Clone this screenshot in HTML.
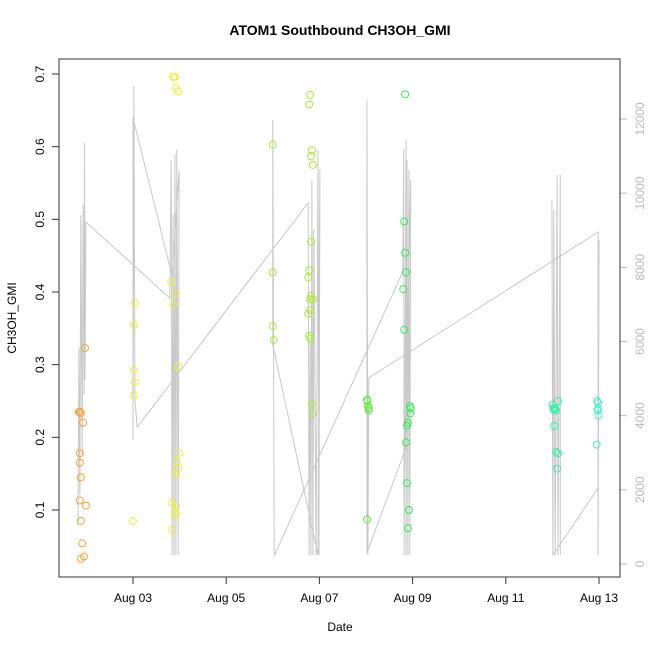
<!DOCTYPE html>
<html><head><meta charset="utf-8"><style>
html,body{margin:0;padding:0;background:#fff;}
svg text{font-family:"Liberation Sans",sans-serif;}
</style></head><body>
<svg id="chart" width="650" height="650" viewBox="0 0 650 650" xmlns="http://www.w3.org/2000/svg">
<rect width="650" height="650" fill="#fff"/>
<text x="340" y="35" text-anchor="middle" font-size="14" font-weight="bold">ATOM1 Southbound CH3OH_GMI</text>
<text x="340" y="631" text-anchor="middle" font-size="12">Date</text>
<text transform="translate(16,318) rotate(-90)" text-anchor="middle" font-size="12">CH3OH_GMI</text>
<g id="grayLine"></g>
<g id="points"></g>
<g id="axes"></g>
<rect x="59" y="59" width="561" height="518" fill="none" stroke="#333" stroke-width="1"/>
</svg>
<script>
// x: days since Aug 01 00:00
const xTickDays = [2,4,6,8,10,12];
const xTickLabels = ["Aug 03","Aug 05","Aug 07","Aug 09","Aug 11","Aug 13"];
const yTicks = [0.1,0.2,0.3,0.4,0.5,0.6,0.7];
const y2Ticks = [0,2000,4000,6000,8000,10000,12000];

const groupColors = ["#f9a234","#eef02c","#a8ec32","#5cf03c","#33ee55","#33f2a4","#3ff2c4"];
const ptDays = [
 [0.84,0.86,0.88,0.86,0.86,0.88,0.86,0.88,0.91,0.88,0.95,0.93,0.97,0.99],
 [2.0,2.04,2.02,2.02,2.04,2.02, 2.86,2.90,2.92,2.97, 2.82,2.86,2.90,2.97,2.99,2.94,2.97,2.92,2.84,2.92,2.90,2.92,2.84],
 [5.0,5.0,5.0,5.02, 5.80,5.78,5.84,5.82,5.86,5.82,5.78,5.76,5.80,5.86,5.82,5.80,5.76,5.78,5.80,5.84,5.86],
 [7.02,7.03,7.04,7.06,7.06,7.02],
 [7.84,7.82,7.84,7.86,7.80,7.82,7.94,7.96,7.95,7.90,7.88,7.86,7.88,7.92,7.90],
 [11.0,11.02,11.03,11.05,11.12,11.08,11.04,11.08,11.12,11.10],
 [11.96,11.98,11.97,11.98,11.99,11.95]
];
const ptValues = [
 [0.235,0.235,0.233,0.178,0.165,0.145,0.113,0.085,0.054,0.033,0.036,0.22,0.323,0.106],
 [0.085,0.385,0.355,0.292,0.276,0.258, 0.696,0.696,0.681,0.676, 0.414,0.383,0.397,0.297,0.178,0.166,0.157,0.149,0.110,0.105,0.094,0.094,0.073],
 [0.603,0.427,0.353,0.334, 0.671,0.658,0.595,0.587,0.575,0.469,0.430,0.420,0.390,0.390,0.395,0.375,0.370,0.340,0.336,0.246,0.233],
 [0.252,0.250,0.243,0.240,0.237,0.087],
 [0.672,0.497,0.454,0.427,0.404,0.348,0.243,0.240,0.233,0.220,0.216,0.193,0.137,0.100,0.075],
 [0.245,0.240,0.238,0.240,0.250,0.237,0.216,0.180,0.178,0.157],
 [0.250,0.247,0.237,0.240,0.230,0.190]
];

// gray line (right axis)
const lineDays = [0.82,0.84,0.86,0.88,0.91,0.93,0.95,0.96,0.97,0.99,
 2.79,2.82,2.84,2.86,2.88,2.90,2.92,2.94,2.97,2.99,2.84,
 2.0,2.0,2.02,2.04,2.09,
 5.76,5.78,5.80,5.82,5.84,5.86,5.88,5.93,5.97,5.99,6.01,5.97,
 5.0,5.0,5.03,
 7.79,7.81,7.82,7.86,7.86,7.88,7.90,7.92,7.94,7.96,7.84,
 7.02,7.02,7.04,7.06,
 11.98,11.98,12.0,11.98,
 11.01,10.99,11.01,11.03,11.06,11.10,11.12,11.17,11.17];
const lineValues = [1050,5830,1860,9410,2940,9680,4560,11350,4960,9220,
 7170,10900,240,9410,240,11030,240,11170,240,10600,7770,
 12030,3340,12900,4420,3690,
 9740,240,6040,240,10360,240,9010,240,11170,240,10630,240,
 5910,11980,220,
 7880,11170,240,11440,240,10900,240,10630,240,10360,3070,
 300,12510,240,5020,
 8950,240,8740,2050,
 240,9820,240,9550,240,10490,240,10490,240];

const L=59,R=620,T=59,B=577;
const X = d => 39.8 + 46.6*d;
const Y = v => 510 - (v-0.1)*726.7;
const Y2 = v => 564 - v*445/12000;
const NS="http://www.w3.org/2000/svg";
function mk(tag, attrs, parent){const e=document.createElementNS(NS,tag);for(const k in attrs)e.setAttribute(k,attrs[k]);parent.appendChild(e);return e;}

const gl=document.getElementById('grayLine');
let pts=lineDays.map((d,i)=>X(d).toFixed(1)+','+Y2(lineValues[i]).toFixed(1)).join(' ');
const pl=mk('polyline',{points:pts,fill:'none',stroke:'#c8c8c8','stroke-width':1},gl);



const pg=document.getElementById('points');
ptDays.forEach((arr,g)=>{arr.forEach((d,i)=>{
  const c=mk('circle',{cx:X(d),cy:Y(ptValues[g][i]),r:3.5,fill:'none',stroke:groupColors[g],'stroke-width':1},pg);
  
  
});});

const ax=document.getElementById('axes');
xTickDays.forEach((d,i)=>{
  const x=X(d);
  const t=mk('line',{x1:x,x2:x,y1:B,y2:B+7,stroke:'#333'},ax);
  
  
  const tx=mk('text',{x:x,y:B+25,'text-anchor':'middle','font-size':12},ax);
  tx.textContent=xTickLabels[i];
  
  
});
mk('line',{x1:X(2),x2:X(12),y1:B,y2:B,stroke:'#333'},ax);
yTicks.forEach(v=>{
  const y=Y(v);
  const t=mk('line',{x1:L-7,x2:L,y1:y,y2:y,stroke:'#333'},ax);
  
  
  const tx=mk('text',{transform:`translate(${L-15},${y}) rotate(-90)`,'text-anchor':'middle','font-size':12},ax);
  tx.textContent=v.toFixed(1);
  
  
});
y2Ticks.forEach(v=>{
  const y=Y2(v);
  const t=mk('line',{x1:R,x2:R+7,y1:y,y2:y,stroke:'#bbb'},ax);
  
  
  const tx=mk('text',{transform:`translate(${R+24},${y}) rotate(-90)`,'text-anchor':'middle','font-size':12,fill:'#bbb'},ax);
  tx.textContent=String(v);
  
  
});
</script>
</body></html>
